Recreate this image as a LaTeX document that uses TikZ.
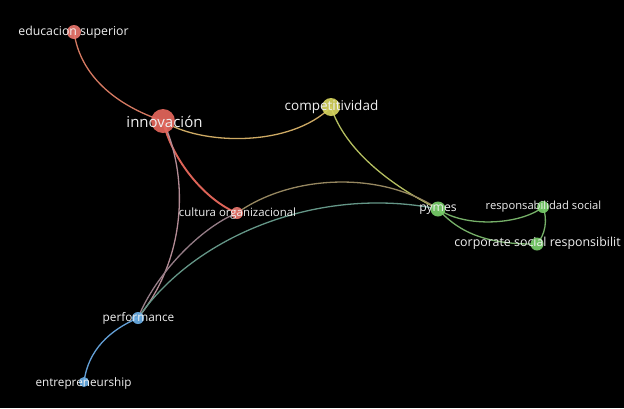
\documentclass[tikz,border=0pt]{standalone}
\usepackage{fontspec}
\setmainfont{Open Sans}
\usetikzlibrary{backgrounds}
\pgfdeclarelayer{edgelayer}
\pgfsetlayers{background,edgelayer,main}
\definecolor{cred}{HTML}{E4665C}
\definecolor{cyel}{HTML}{D6D45E}
\definecolor{cgrn}{HTML}{78CE6A}
\definecolor{cblu}{HTML}{6AAEE6}
\definecolor{labelc}{HTML}{F0F0F0}
\tikzset{
  dot/.style={circle, inner sep=0pt, minimum size=#1, fill opacity=0.92},
  lbl/.style={text=labelc, inner sep=0pt, font=\fontsize{#1}{#1}\selectfont},
  edge/.style={line width=1.3pt, line cap=round},
}
\begin{document}
\begin{tikzpicture}[x=1pt,y=-1pt]
\useasboundingbox (0,0) rectangle (624,408);
\begin{pgfonlayer}{background}
\fill[black] (0,0) rectangle (624,408);
\end{pgfonlayer}
% nodes (circles)
\node[dot=14pt, fill=cred!90!white] (educ) at (74,32) {};
\node[dot=24pt, fill=cred] (innov) at (163,121) {};
\node[dot=18pt, fill=cyel] (comp) at (331,107) {};
\node[dot=12pt, fill=cred!90!white] (cult) at (237,213) {};
\node[dot=15pt, fill=cgrn] (pym) at (438,209) {};
\node[dot=12pt, fill=cgrn] (resp) at (543,207) {};
\node[dot=13pt, fill=cgrn] (corp) at (537,244) {};
\node[dot=12pt, fill=cblu] (perf) at (138,318) {};
\node[dot=10pt, fill=cblu] (entr) at (84,382) {};
% edges
\begin{pgfonlayer}{edgelayer}
\draw[edge, draw={rgb,255:red,214;green,122;blue,98}] (educ.center) .. controls (80,75) and (115,105) .. (innov.center);
\draw[edge, draw={rgb,255:red,206;green,170;blue,100}] (innov.center) .. controls (200,145) and (290,148) .. (comp.center);
\draw[edge, line width=1.9pt, draw={rgb,255:red,222;green,100;blue,88}] (innov.center) .. controls (172,160) and (205,200) .. (cult.center);
\draw[edge, draw={rgb,255:red,180;green,140;blue,150}] (innov.center) .. controls (190,180) and (185,260) .. (perf.center);
\draw[edge, draw={rgb,255:red,180;green,190;blue,96}] (comp.center) .. controls (345,150) and (390,185) .. (pym.center);
\draw[edge, draw={rgb,255:red,150;green,135;blue,96}] (cult.center) .. controls (290,175) and (380,170) .. (pym.center);
\draw[edge, draw={rgb,255:red,150;green,125;blue,135}] (perf.center) .. controls (155,275) and (200,228) .. (cult.center);
\draw[edge, draw={rgb,255:red,100;green,150;blue,135}] (perf.center) .. controls (195,235) and (320,185) .. (pym.center);
\draw[edge, draw={rgb,255:red,100;green,160;blue,215}] (perf.center) .. controls (110,330) and (88,350) .. (entr.center);
\draw[edge, draw={rgb,255:red,118;green,176;blue,104}] (pym.center) .. controls (465,228) and (520,225) .. (resp.center);
\draw[edge, draw={rgb,255:red,118;green,176;blue,104}] (pym.center) .. controls (455,228) and (480,245) .. (corp.center);
\draw[edge, draw={rgb,255:red,118;green,176;blue,104}] (resp.center) .. controls (548,220) and (545,235) .. (corp.center);
\end{pgfonlayer}
% labels
\node[lbl=12.3] (educL) at (73.5,32) {educacion superior};
\node[lbl=15] (innovL) at (164.5,122) {innovación};
\node[lbl=13.5] (compL) at (331.5,107) {competitividad};
\node[lbl=11.4] (cultL) at (237.5,214) {cultura organizacional};
\node[lbl=12.2] (pymL) at (438,210) {pymes};
\node[lbl=11.2] (respL) at (543.5,207) {responsabilidad social};
\node[lbl=12.4] (corpL) at (537.5,243) {corporate social responsibilit};
\node[lbl=11.8] (perfL) at (138.5,318) {performance};
\node[lbl=11.7] (entrL) at (83.5,383) {entrepreneurship};
\end{tikzpicture}
\end{document}
